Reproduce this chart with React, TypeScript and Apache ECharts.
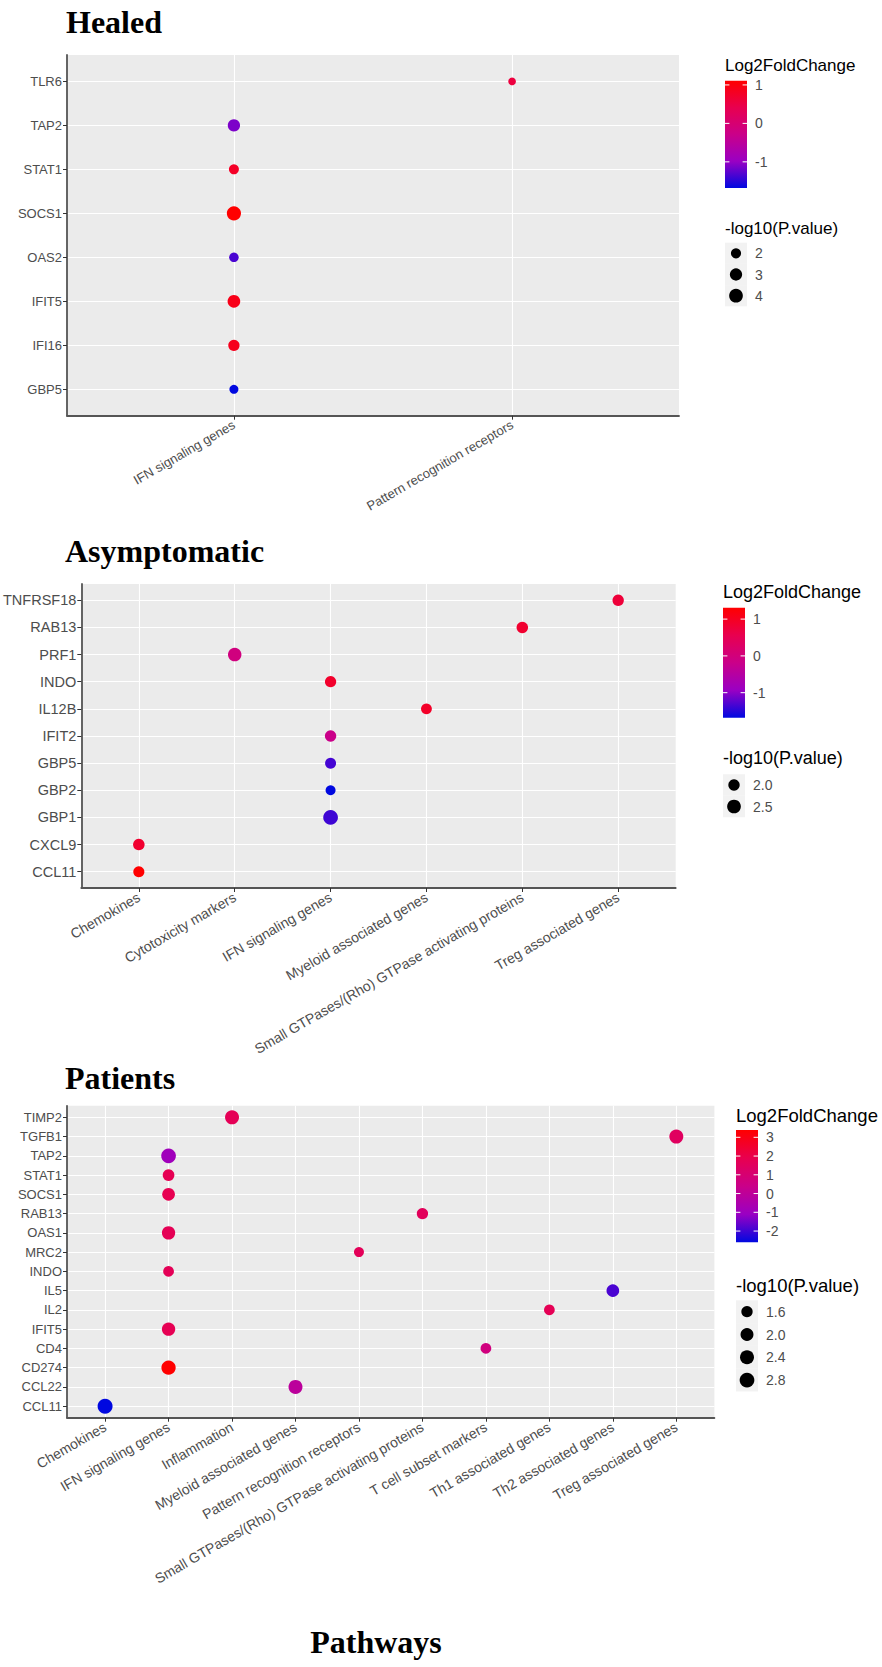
import React, { useEffect, useRef } from "react";
import * as echarts from "echarts";

// ---------------- DATA ----------------
// Healed
const healedPathways = ["IFN signaling genes", "Pattern recognition receptors"];
const healedGenes = ["GBP5", "IFI16", "IFIT5", "OAS2", "SOCS1", "STAT1", "TAP2", "TLR6"];
const healedPointGene = ["GBP5", "IFI16", "IFIT5", "OAS2", "SOCS1", "STAT1", "TAP2", "TLR6"];
const healedPointPathway = [
  "IFN signaling genes", "IFN signaling genes", "IFN signaling genes", "IFN signaling genes",
  "IFN signaling genes", "IFN signaling genes", "IFN signaling genes", "Pattern recognition receptors",
];
const healedLfc = [-1.68, 0.85, 0.9, -1.35, 1.11, 0.77, -1.12, 0.55];
const healedP = [1.71, 2.46, 3.25, 1.82, 4.4, 1.95, 3.0, 1.6];
const healedColorTicks = [1, 0, -1];
const healedSizeKeys = [2, 3, 4];

// Asymptomatic
const asymPathways = [
  "Chemokines", "Cytotoxicity markers", "IFN signaling genes", "Myeloid associated genes",
  "Small GTPases/(Rho) GTPase activating proteins", "Treg associated genes",
];
const asymGenes = ["CCL11", "CXCL9", "GBP1", "GBP2", "GBP5", "IFIT2", "IL12B", "INDO", "PRF1", "RAB13", "TNFRSF18"];
const asymPointGene = ["CCL11", "CXCL9", "GBP1", "GBP2", "GBP5", "IFIT2", "IL12B", "INDO", "PRF1", "RAB13", "TNFRSF18"];
const asymPointPathway = [
  "Chemokines", "Chemokines", "IFN signaling genes", "IFN signaling genes", "IFN signaling genes",
  "IFN signaling genes", "Myeloid associated genes", "IFN signaling genes", "Cytotoxicity markers",
  "Small GTPases/(Rho) GTPase activating proteins", "Treg associated genes",
];
const asymLfc = [1.31, 0.86, -1.38, -1.68, -1.35, -0.18, 0.92, 0.89, -0.04, 0.86, 0.77];
const asymP = [1.97, 2.02, 2.85, 1.92, 1.96, 2.0, 1.95, 1.99, 2.44, 2.01, 2.0];
const asymColorTicks = [1, 0, -1];
const asymSizeKeys = ["2.0", "2.5"];

// Patients
const patPathways = [
  "Chemokines", "IFN signaling genes", "Inflammation", "Myeloid associated genes",
  "Pattern recognition receptors", "Small GTPases/(Rho) GTPase activating proteins",
  "T cell subset markers", "Th1 associated genes", "Th2 associated genes", "Treg associated genes",
];
const patGenes = [
  "CCL11", "CCL22", "CD274", "CD4", "IFIT5", "IL2", "IL5", "INDO", "MRC2", "OAS1",
  "RAB13", "SOCS1", "STAT1", "TAP2", "TGFB1", "TIMP2",
];
const patPointGene = [
  "CCL11", "CCL22", "CD274", "CD4", "IFIT5", "IL2", "IL5", "INDO", "MRC2", "OAS1",
  "RAB13", "SOCS1", "STAT1", "TAP2", "TGFB1", "TIMP2",
];
const patPointPathway = [
  "Chemokines", "Myeloid associated genes", "IFN signaling genes", "T cell subset markers",
  "IFN signaling genes", "Th1 associated genes", "Th2 associated genes", "IFN signaling genes",
  "Pattern recognition receptors", "IFN signaling genes",
  "Small GTPases/(Rho) GTPase activating proteins", "IFN signaling genes", "IFN signaling genes",
  "IFN signaling genes", "Treg associated genes", "Inflammation",
];
const patLfc = [-2.6, -0.08, 3.39, 0.69, 1.8, 1.75, -1.88, 1.7, 1.65, 1.75, 1.6, 1.85, 1.8, -0.9, 1.47, 1.72];
const patP = [2.95, 2.43, 2.57, 1.53, 2.13, 1.53, 1.92, 1.53, 1.5, 2.13, 1.6, 1.92, 1.67, 2.78, 2.43, 2.43];
const patColorTicks = [3, 2, 1, 0, -1, -2];
const patSizeKeys = ["1.6", "2.0", "2.4", "2.8"];

// ---------------- STYLE / LAYOUT ----------------
const SANS = "'Liberation Sans', Arial, sans-serif";
const SERIF = "'Liberation Serif', 'Times New Roman', serif";
const RAMP = ["#0008E0", "#9A00C3", "#CA0089", "#E8004F", "#FF0000"];
const TEXT_GREY = "#4D4D4D";

type Layout = {
  grid: { left: number; top: number; width: number; height: number };
  yFont: number;
  xFont: number;
  title: { text: string; x: number; y: number };
  leg: {
    x: number; titleY: number; titleSize: number; barTop: number; barH: number; barW: number;
    labelX: number; labelSize: number; sizeTitleY: number; keyY0: number; keyStep: number;
  };
  dMin: number; dMax: number;
};

const layouts: Layout[] = [
  {
    grid: { left: 67, top: 55, width: 612, height: 360.7 },
    yFont: 13, xFont: 13,
    title: { text: "Healed", x: 66, y: 22 },
    leg: { x: 725, titleY: 65, titleSize: 17, barTop: 80.7, barH: 107.3, barW: 22, labelX: 755, labelSize: 14,
      sizeTitleY: 228, keyY0: 253.3, keyStep: 21.2 },
    dMin: 7.7, dMax: 14.2,
  },
  {
    grid: { left: 67.5, top: 584, width: 608.2, height: 304 },
    yFont: 14.5, xFont: 14,
    title: { text: "Asymptomatic", x: 65, y: 551 },
    leg: { x: 723, titleY: 591.7, titleSize: 18, barTop: 607.7, barH: 110, barW: 22, labelX: 753, labelSize: 14,
      sizeTitleY: 758, keyY0: 785, keyStep: 21.5 },
    dMin: 10, dMax: 14.7,
  },
  {
    grid: { left: 67, top: 1105.8, width: 647.4, height: 311.9 },
    yFont: 13, xFont: 14,
    title: { text: "Patients", x: 65, y: 1078 },
    leg: { x: 736, titleY: 1115, titleSize: 18.5, barTop: 1130, barH: 112.3, barW: 22, labelX: 766, labelSize: 14,
      sizeTitleY: 1285, keyY0: 1311.7, keyStep: 22.8 },
    dMin: 10, dMax: 15,
  },
];

type Panel = {
  pathways: string[]; genes: string[]; pg: string[]; pp: string[]; lfc: number[]; pv: number[];
  ticks: number[]; keys: (number | string)[];
};

const panels: Panel[] = [
  { pathways: healedPathways, genes: healedGenes, pg: healedPointGene, pp: healedPointPathway, lfc: healedLfc, pv: healedP, ticks: healedColorTicks, keys: healedSizeKeys },
  { pathways: asymPathways, genes: asymGenes, pg: asymPointGene, pp: asymPointPathway, lfc: asymLfc, pv: asymP, ticks: asymColorTicks, keys: asymSizeKeys },
  { pathways: patPathways, genes: patGenes, pg: patPointGene, pp: patPointPathway, lfc: patLfc, pv: patP, ticks: patColorTicks, keys: patSizeKeys },
];

function sizeFn(p: Panel, L: Layout) {
  const pMin = Math.min(...p.pv);
  const pMax = Math.max(...p.pv);
  return (v: number) => {
    const t = Math.max(0, Math.min(1, (v - pMin) / (pMax - pMin)));
    return L.dMin + (L.dMax - L.dMin) * Math.sqrt(t);
  };
}

function textEl(text: string, x: number, y: number, font: string, fill: string, align = "left") {
  return {
    type: "text",
    silent: true,
    style: { text, x, y, font, fill, textAlign: align, align, textVerticalAlign: "middle", verticalAlign: "middle" },
  };
}

function buildOption() {
  const grids: any[] = [];
  const xAxes: any[] = [];
  const yAxes: any[] = [];
  const series: any[] = [];
  const visualMaps: any[] = [];
  const graphics: any[] = [];

  panels.forEach((p, i) => {
    const L = layouts[i];
    const sz = sizeFn(p, L);
    const cMin = Math.min(...p.lfc);
    const cMax = Math.max(...p.lfc);
    grids.push({ ...L.grid, show: true, backgroundColor: "#EBEBEB", borderWidth: 0, containLabel: false });

    const xIdx = p.pathways.map((_, k) => k);
    const yIdx = p.genes.map((_, k) => k);
    const axisCommon = {
      type: "value",
      gridIndex: i,
      axisLine: { show: true, onZero: false, lineStyle: { color: "#555555", width: 1.8 } },
      splitLine: { show: true, lineStyle: { color: "#FFFFFF", width: 1.1 } },
      minorSplitLine: { show: false },
    };
    xAxes.push({
      ...axisCommon,
      min: -0.6,
      max: p.pathways.length - 0.4,
      axisTick: { show: true, length: 4, lineStyle: { color: "#333333" }, customValues: xIdx },
      axisLabel: {
        show: true, customValues: xIdx, rotate: 30, margin: 8, color: TEXT_GREY,
        fontSize: L.xFont, fontFamily: SANS,
        formatter: (v: number) => p.pathways[Math.round(v)] ?? "",
      },
    });
    yAxes.push({
      ...axisCommon,
      min: -0.6,
      max: p.genes.length - 0.4,
      axisTick: { show: true, length: 4, lineStyle: { color: "#333333" }, customValues: yIdx },
      axisLabel: {
        show: true, customValues: yIdx, margin: 5, color: TEXT_GREY,
        fontSize: L.yFont, fontFamily: SANS,
        formatter: (v: number) => p.genes[Math.round(v)] ?? "",
      },
    });
    series.push({
      type: "scatter",
      xAxisIndex: i,
      yAxisIndex: i,
      symbol: "circle",
      symbolSize: (val: number[]) => sz(val[3]),
      data: p.pg.map((g, k) => [p.pathways.indexOf(p.pp[k]), p.genes.indexOf(g), p.lfc[k], p.pv[k]]),
      itemStyle: { opacity: 1 },
      z: 5,
    });
    visualMaps.push({
      type: "continuous", show: false, seriesIndex: i, dimension: 2,
      min: cMin, max: cMax, inRange: { color: RAMP },
    });

    // title
    graphics.push(textEl(L.title.text, L.title.x, L.title.y, `bold 32px ${SERIF}`, "#000000"));

    // colour legend
    const lg = L.leg;
    graphics.push(textEl("Log2FoldChange", lg.x, lg.titleY, `${lg.titleSize}px ${SANS}`, "#000000"));
    graphics.push({
      type: "rect",
      silent: true,
      shape: { x: lg.x, y: lg.barTop, width: lg.barW, height: lg.barH },
      style: {
        fill: new echarts.graphic.LinearGradient(0, 0, 0, 1,
          RAMP.slice().reverse().map((c, k) => ({ offset: k / (RAMP.length - 1), color: c }))),
      },
    });
    p.ticks.forEach((v) => {
      const y = lg.barTop + ((cMax - v) / (cMax - cMin)) * lg.barH;
      const tl = lg.barW / 5;
      graphics.push({ type: "line", silent: true, shape: { x1: lg.x, y1: y, x2: lg.x + tl, y2: y }, style: { stroke: "#FFFFFF", lineWidth: 1 } });
      graphics.push({ type: "line", silent: true, shape: { x1: lg.x + lg.barW - tl, y1: y, x2: lg.x + lg.barW, y2: y }, style: { stroke: "#FFFFFF", lineWidth: 1 } });
      graphics.push(textEl(String(v), lg.labelX, y, `${lg.labelSize}px ${SANS}`, TEXT_GREY));
    });

    // size legend
    graphics.push(textEl("-log10(P.value)", lg.x, lg.sizeTitleY, `${lg.titleSize}px ${SANS}`, "#000000"));
    p.keys.forEach((kv, k) => {
      const cy = lg.keyY0 + k * lg.keyStep;
      graphics.push({
        type: "rect", silent: true,
        shape: { x: lg.x, y: cy - lg.keyStep / 2, width: lg.barW, height: lg.keyStep },
        style: { fill: "#F2F2F2" },
      });
      graphics.push({
        type: "circle", silent: true,
        shape: { cx: lg.x + lg.barW / 2, cy, r: sz(Number(kv)) / 2 },
        style: { fill: "#000000" },
      });
      graphics.push(textEl(String(kv), lg.labelX, cy, `${lg.labelSize}px ${SANS}`, TEXT_GREY));
    });
  });

  graphics.push(textEl("Pathways", 376, 1642, `bold 32px ${SERIF}`, "#000000", "center"));

  return {
    animation: false,
    backgroundColor: "#FFFFFF",
    grid: grids,
    xAxis: xAxes,
    yAxis: yAxes,
    visualMap: visualMaps,
    series,
    graphic: { elements: graphics },
  };
}

export default function App() {
  const ref = useRef<HTMLDivElement>(null);
  useEffect(() => {
    if (!ref.current) return;
    const chart = echarts.init(ref.current, undefined, { renderer: "svg" });
    chart.setOption(buildOption() as any);
    return () => chart.dispose();
  }, []);
  return (
    <div
      ref={ref}
      style={{ position: "absolute", left: 0, top: 0, width: 882, height: 1667, background: "#FFFFFF" }}
    />
  );
}
